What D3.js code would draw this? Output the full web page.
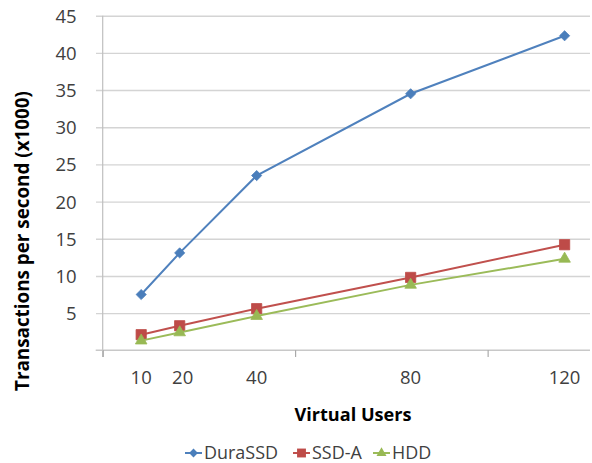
<!DOCTYPE html>
<html>
<head>
<meta charset="utf-8">
<script src="https://cdn.jsdelivr.net/npm/d3@7"></script>
<style>
  html, body { margin: 0; padding: 0; background: #fff; }
  svg { display: block; }
  text { font-family: "Open Sans", "DejaVu Sans", sans-serif; }
</style>
</head>
<body>
<svg id="chart" width="592" height="463"></svg>
<script>
// Throughput (thousands of transactions per second) by number of virtual users
const users = [10, 20, 40, 80, 120];
const duraSSD = [7.5, 13.1, 23.5, 34.5, 42.3];
const ssdA = [2.1, 3.3, 5.6, 9.8, 14.2];
const hdd = [1.3, 2.4, 4.6, 8.8, 12.3];
const yTicks = [5, 10, 15, 20, 25, 30, 35, 40, 45];
const xMajorTicks = [0, 50, 100];

const seriesList = [
  { name: "DuraSSD", values: duraSSD, line: "#4F81BD", fill: "#4A7EBB", symbol: d3.symbolDiamond2, size: 66 },
  { name: "SSD-A", values: ssdA, line: "#C0504D", fill: "#BE4B48", symbol: d3.symbolSquare, size: 105 },
  { name: "HDD", values: hdd, line: "#9BBB59", fill: "#98B954", symbol: d3.symbolTriangle, size: 58 }
];

const svg = d3.select("#chart");
const plot = { left: 102.7, right: 590, top: 15.7, bottom: 350.3 };

const x = d3.scaleLinear().domain([0, 126.6]).range([plot.left, plot.right]);
const y = d3.scaleLinear().domain([0, 45]).range([plot.bottom, plot.top]);

// Shrink or grow a label's font so it spans the given width
function fitText(sel, width) {
  const base = parseFloat(sel.style("font-size"));
  const len = sel.node().getComputedTextLength();
  sel.style("font-size", (base * width / len).toFixed(2) + "px");
}

// Horizontal gridlines with short ticks to the left of the axis
const yAxis = d3.axisLeft(y).tickValues(yTicks).tickSize(-(plot.right - plot.left)).tickFormat(d3.format("d"));
const gy = svg.append("g").attr("transform", `translate(${plot.left},0)`).call(yAxis);
gy.select(".domain").remove();
gy.selectAll(".tick line").attr("x1", -6.7).attr("stroke", "#d4d4d4").attr("stroke-width", 1.4);
gy.selectAll(".tick text")
  .attr("x", -26).attr("dy", "0.35em")
  .attr("fill", "#404040").style("font-size", "18.5px");

// Vertical axis line, running just past the baseline
svg.append("line")
  .attr("x1", plot.left).attr("x2", plot.left)
  .attr("y1", plot.top).attr("y2", plot.bottom + 6.7)
  .attr("stroke", "#bfbfbf").attr("stroke-width", 1.2);

// Baseline and major tick marks
const xAxis = d3.axisBottom(x).tickValues(xMajorTicks).tickSize(6.7).tickFormat("");
const gx = svg.append("g").attr("transform", `translate(0,${plot.bottom})`).call(xAxis);
gx.select(".domain").attr("d", `M${plot.left - 7},0H${plot.right}`).attr("stroke", "#c8c8c8").attr("stroke-width", 1.4);
gx.selectAll(".tick line").attr("stroke", "#9a9a9a").attr("stroke-width", 1);

// Category labels at each measured user count
svg.append("g").selectAll("text").data(users).join("text")
  .attr("x", d => x(d) + (d === 20 ? 3 : 0))
  .attr("y", 378).attr("dy", "0.35em")
  .attr("text-anchor", "middle")
  .attr("fill", "#404040").style("font-size", "18.5px")
  .text(d => d);

// Axis titles
const yTitle = svg.append("text")
  .attr("transform", "translate(22,241) rotate(-90)")
  .attr("text-anchor", "middle").attr("dy", "0.35em")
  .style("font-size", "16px").style("font-weight", "bold")
  .attr("fill", "#000")
  .text("Transactions per second (x1000)");
fitText(yTitle, 300);

const xTitle = svg.append("text")
  .attr("x", 353).attr("y", 415).attr("dy", "0.35em")
  .attr("text-anchor", "middle")
  .style("font-size", "17px").style("font-weight", "bold")
  .attr("fill", "#000")
  .text("Virtual Users");
fitText(xTitle, 117);

// Series lines and markers
const line = d3.line().x((d, i) => x(users[i])).y(d => y(d));
seriesList.forEach(s => {
  const g = svg.append("g");
  g.append("path").datum(s.values)
    .attr("d", line).attr("fill", "none")
    .attr("stroke", s.line).attr("stroke-width", 2);
  g.selectAll("path.marker").data(s.values).join("path")
    .attr("class", "marker")
    .attr("transform", (d, i) => `translate(${x(users[i])},${y(d)})`)
    .attr("d", d3.symbol().type(s.symbol).size(s.size))
    .attr("fill", s.fill).attr("stroke", s.fill).attr("stroke-width", 0.8);
});

// Legend
const legendX = [185, 293, 373];
const legend = svg.append("g");
seriesList.forEach((s, i) => {
  const lg = legend.append("g").attr("transform", `translate(${legendX[i]},453)`);
  lg.append("line").attr("x1", 0).attr("x2", 17).attr("stroke", s.line).attr("stroke-width", 2);
  lg.append("path").attr("transform", "translate(8.5,0)")
    .attr("d", d3.symbol().type(s.symbol).size(s.size * 0.75))
    .attr("fill", s.fill);
  const t = lg.append("text").attr("x", 19).attr("dy", "0.35em")
    .style("font-size", "17px").attr("fill", "#404040")
    .text(s.name);
  if (i === 0) fitText(t, 74);
  else t.style("font-size", legend.select("text").style("font-size"));
});
</script>
</body>
</html>
